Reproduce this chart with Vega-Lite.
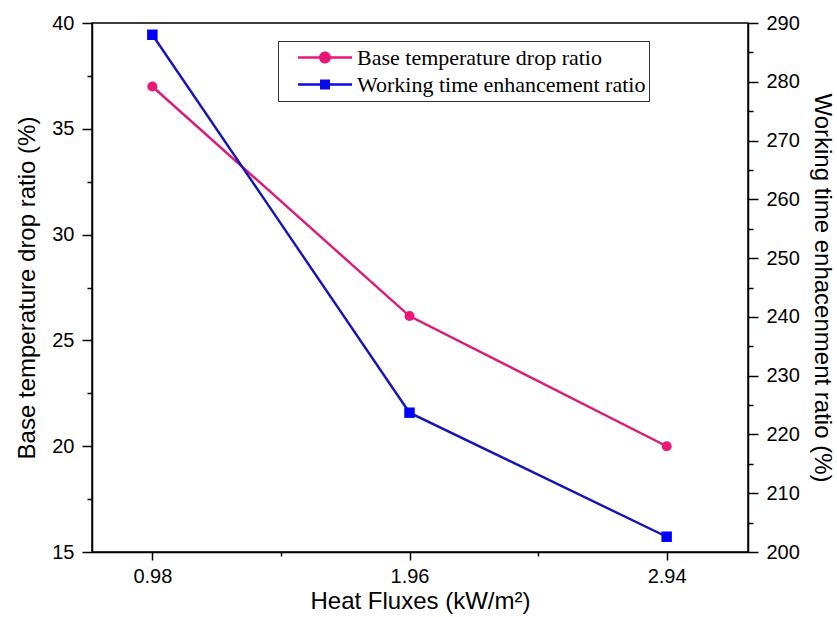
{
  "$schema": "https://vega.github.io/schema/vega-lite/v6.json",
  "width": 656,
  "height": 529,
  "autosize": {"type": "none"},
  "padding": {"left": 92, "top": 23, "right": 89, "bottom": 65},
  "background": "white",
  "config": {
    "font": "Liberation Sans",
    "view": {"stroke": "black", "strokeWidth": 1.5},
    "axis": {
      "grid": false,
      "domainColor": "black",
      "domainWidth": 1.5,
      "tickColor": "black",
      "tickWidth": 1.5,
      "labelColor": "black",
      "titleColor": "black",
      "labelFont": "Liberation Sans",
      "titleFont": "Liberation Sans",
      "labelFontSize": 20,
      "titleFontSize": 24,
      "titleFontWeight": "normal"
    }
  },
  "data": {
    "values": [
      {"x": 0.98, "series": "Base temperature drop ratio", "value": 37.0},
      {"x": 1.96, "series": "Base temperature drop ratio", "value": 26.15},
      {"x": 2.94, "series": "Base temperature drop ratio", "value": 20.0},
      {"x": 0.98, "series": "Working time enhancement ratio", "value": 288.0},
      {"x": 1.96, "series": "Working time enhancement ratio", "value": 223.7},
      {"x": 2.94, "series": "Working time enhancement ratio", "value": 202.6}
    ]
  },
  "encoding": {
    "x": {
      "field": "x",
      "type": "quantitative",
      "scale": {"domain": [0.75, 3.25], "nice": false, "zero": false},
      "axis": {
        "title": "Heat Fluxes (kW/m²)",
        "values": [0.98, 1.47, 1.96, 2.45, 2.94],
        "format": ".2f",
        "labelExpr": "abs(datum.value/0.98 - round(datum.value/0.98)) < 0.01 ? datum.label : ''",
        "tickSize": {"condition": {"test": "abs(datum.value/0.98 - round(datum.value/0.98)) < 0.01", "value": 8}, "value": 4},
        "labelPadding": 6,
        "titlePadding": 3
      }
    }
  },
  "layer": [
    {
      "transform": [{"filter": "datum.series === 'Base temperature drop ratio'"}],
      "encoding": {
        "y": {
          "field": "value",
          "type": "quantitative",
          "scale": {"domain": [15, 40], "nice": false, "zero": false},
          "axis": {
            "orient": "left",
            "title": "Base temperature drop ratio (%)",
            "values": [15, 17.5, 20, 22.5, 25, 27.5, 30, 32.5, 35, 37.5, 40],
            "labelExpr": "datum.value % 5 === 0 ? datum.label : ''",
            "tickSize": {"condition": {"test": "datum.value % 5 === 0", "value": 10}, "value": 5},
            "labelPadding": 8,
            "titlePadding": 12
          }
        }
      },
      "layer": [
        {"mark": {"type": "line", "color": "#dc1a78", "strokeWidth": 2.4}},
        {"mark": {"type": "point", "shape": "circle", "filled": true, "color": "#ec1677", "opacity": 1, "size": 100}}
      ]
    },
    {
      "transform": [{"filter": "datum.series === 'Working time enhancement ratio'"}],
      "encoding": {
        "y": {
          "field": "value",
          "type": "quantitative",
          "scale": {"domain": [200, 290], "nice": false, "zero": false},
          "axis": {
            "orient": "right",
            "title": "Working time enhacenment ratio (%)",
            "values": [200, 205, 210, 215, 220, 225, 230, 235, 240, 245, 250, 255, 260, 265, 270, 275, 280, 285, 290],
            "labelExpr": "datum.value % 10 === 0 ? datum.label : ''",
            "tickSize": {"condition": {"test": "datum.value % 10 === 0", "value": 10}, "value": 5},
            "labelPadding": 8,
            "titlePadding": 10
          }
        }
      },
      "layer": [
        {"mark": {"type": "line", "color": "#1414b8", "strokeWidth": 2.4}},
        {"mark": {"type": "point", "shape": "square", "filled": true, "color": "#0000ff", "opacity": 1, "size": 110}}
      ]
    },
    {
      "mark": {"type": "point", "filled": true, "opacity": 0, "size": 5041},
      "encoding": {
        "y": {"field": "value", "type": "quantitative", "axis": null},
        "fill": {
          "field": "series",
          "type": "nominal",
          "scale": {
            "domain": ["Base temperature drop ratio", "Working time enhancement ratio"],
            "range": ["#e8177a", "#0a0ae8"]
          },
          "legend": {
            "title": null,
            "orient": "none",
            "legendX": 186,
            "legendY": 18,
            "strokeColor": "#333333",
            "fillColor": "white",
            "padding": 3,
            "symbolSize": 5041,
            "symbolOpacity": 1,
            "symbolStrokeWidth": 0,
            "clipHeight": 27,
            "rowPadding": 0,
            "labelOffset": 5,
            "labelFont": "Liberation Serif",
            "labelFontSize": 22,
            "labelColor": "black",
            "labelLimit": 500,
            "labelExpr": "datum.label + '   '",
            "encode": {
              "symbols": {
                "update": {
                  "opacity": {"value": 1},
                  "fillOpacity": {"value": 1}
                }
              }
            }
          }
        },
        "shape": {
          "field": "series",
          "type": "nominal",
          "scale": {
            "domain": ["Base temperature drop ratio", "Working time enhancement ratio"],
            "range": [
              "M-0.521,-0.034H1V0.034H-0.521Z M0.408,0A0.169,0.169,0,1,1,0.070,0A0.169,0.169,0,1,1,0.408,0Z",
              "M-0.521,-0.034H1V0.034H-0.521Z M0.098,-0.141H0.380V0.141H0.098Z"
            ]
          }
        }
      }
    }
  ],
  "resolve": {"scale": {"y": "independent"}}
}
